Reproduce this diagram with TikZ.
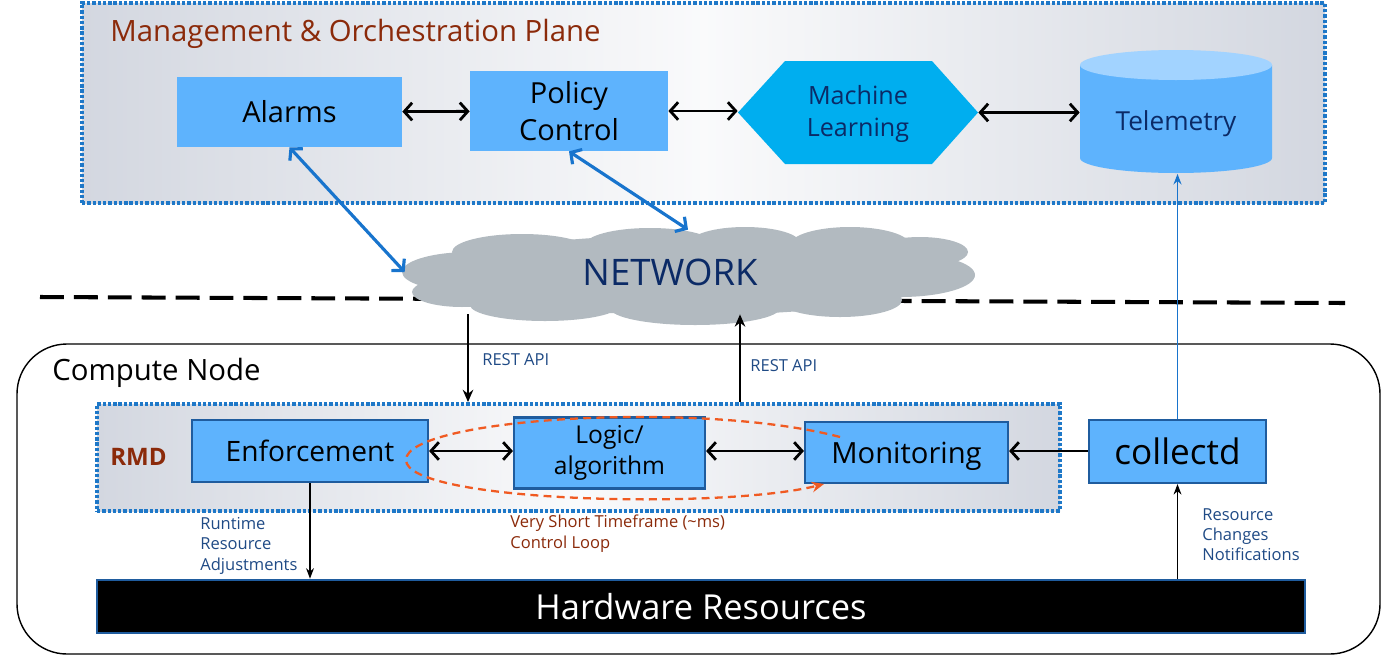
\documentclass[tikz,border=0pt]{standalone}
\usepackage{fontspec}
\setmainfont{Open Sans}
\usetikzlibrary{arrows.meta,calc}

\definecolor{boxblue}{HTML}{5EB3FD}
\definecolor{mlcyan}{HTML}{00AEEF}
\definecolor{cyltop}{HTML}{A2D3FF}
\definecolor{edgeblue}{HTML}{1F5C9E}
\definecolor{dotblue}{HTML}{1E78C8}
\definecolor{linkblue}{HTML}{1874CD}
\definecolor{navy}{HTML}{0B2A66}
\definecolor{lblue}{HTML}{1F4A85}
\definecolor{rust}{HTML}{8B2A0A}
\definecolor{cloudgray}{HTML}{B2BAC0}
\definecolor{loopred}{HTML}{F05A22}
\definecolor{planegray}{HTML}{D3D7E0}

\newcommand\px{0.02cm}
\newcommand\fs[2]{\fontsize{#1}{#2}\selectfont}

\tikzset{
  plane/.style={draw=dotblue, line width=2.2pt, dash pattern=on 1.9pt off 1.1pt,
    left color=planegray, right color=planegray, middle color=planegray!12},
  mgmtbox/.style={fill=boxblue, inner sep=0pt, align=center},
  rmdbox/.style={fill=boxblue, draw=edgeblue, line width=1.2pt, inner sep=0pt, align=center},
  nodesc/.style={text depth=0pt},
  dbl/.style={{Straight Barb[length=4.5pt,width=10pt]}-{Straight Barb[length=4.5pt,width=10pt]}, line width=1.6pt},
  bluedbl/.style={dbl, draw=linkblue, line width=1.8pt},
  oneway/.style={-{Stealth[length=7pt,width=6pt]}, line width=1.1pt},
  hwarrow/.style={-{Stealth[length=6pt,width=4.5pt]}, line width=0.7pt},
  lbl/.style={text=lblue, font=\fs{9.4}{11.6}, align=left, anchor=north west, inner sep=0pt},
}

\begin{document}
\begin{tikzpicture}[x=0.02cm, y=-0.02cm]
  \useasboundingbox (0,0) rectangle (1388,656);

  % Management plane
  \node[plane, minimum width=1243*\px, minimum height=200*\px] (mop) at (703.5,103) {};
  \node[anchor=west, text=rust, font=\fs{16.7}{20}, inner sep=0pt] (moptitle) at (110,34)
    {Management \& Orchestration Plane};

  \node[mgmtbox, minimum width=225*\px, minimum height=70*\px, font=\fs{16.5}{20}] (alarms) at (289.5,112) {Alarms};
  \node[mgmtbox, minimum width=198*\px, minimum height=80*\px, font=\fs{16.5}{21}] (policy) at (569,111) {Policy\\Control};

  % hexagon behind the text
  \coordinate (mlc) at (858,112.5);
  \fill[mlcyan] ($(mlc)+(-120,0)$) -- ($(mlc)+(-73,-51.5)$) -- ($(mlc)+(74,-51.5)$)
    -- ($(mlc)+(120,0)$) -- ($(mlc)+(74,51.5)$) -- ($(mlc)+(-73,51.5)$) -- cycle;
  \node[minimum width=240*\px, minimum height=103*\px, inner sep=0pt, align=center,
    text=navy, font=\fs{14.3}{18.5}] (ml) at ($(mlc)+(0,1.5)$) {Machine\\Learning};

  % cylinder behind the text
  \coordinate (telc) at (1176,112);
  \fill[boxblue] ($(telc)+(-96,-47)$) -- ($(telc)+(-96,46)$)
    arc[start angle=180, end angle=360, x radius=96, y radius=-15] -- ($(telc)+(96,-47)$) -- cycle;
  \fill[cyltop] ($(telc)+(0,-47)$) ellipse [x radius=96, y radius=15];
  \node[minimum width=192*\px, minimum height=105*\px, inner sep=0pt, nodesc,
    text=navy, font=\fs{14.9}{18}] (tel) at ($(telc)+(0,9)$) {Telemetry};

  \draw[dbl] (alarms) -- (policy);
  \draw[dbl] (policy) -- (ml.west |- policy);
  \draw[dbl] (ml.east |- mlc) -- (tel.west |- mlc);

  % separating line
  \draw[line width=2.3pt, dash pattern=on 13.6pt off 5.7pt] (40,297) -- (1345,303);

  % Network cloud
  \begin{scope}[cloudgray]
    \fill (690,275) ellipse [x radius=255, y radius=40];
    \fill (470,272) ellipse [x radius=68, y radius=20];
    \fill (522,252) ellipse [x radius=70, y radius=18];
    \fill (650,245) ellipse [x radius=65, y radius=17];
    \fill (745,243) ellipse [x radius=55, y radius=16];
    \fill (850,245) ellipse [x radius=60, y radius=18];
    \fill (920,252) ellipse [x radius=48, y radius=15];
    \fill (900,275) ellipse [x radius=75, y radius=22];
    \fill (840,300) ellipse [x radius=62, y radius=17];
    \fill (695,308) ellipse [x radius=85, y radius=17];
    \fill (545,305) ellipse [x radius=75, y radius=16];
    \fill (462,292) ellipse [x radius=50, y radius=15];
  \end{scope}
  \node[minimum width=530*\px, minimum height=84*\px, inner sep=0pt,
    text=navy, font=\fs{20.8}{24}] (net) at (670,272) {NETWORK};

  \draw[bluedbl] (alarms.south) -- (net.west);
  \draw[bluedbl] (policy.south) -- ([xshift=18*\px]net.north);

  % Compute node
  \node[draw, line width=0.8pt, rounded corners=1cm, minimum width=1363*\px,
    minimum height=310*\px] (cn) at (698.5,499) {};
  \node[anchor=west, font=\fs{16.7}{20}, inner sep=0pt] (cntitle) at (52,373) {Compute Node};

  \node[plane, minimum width=963*\px, minimum height=107*\px] (rmd) at (578.5,457.5) {};
  \node[anchor=west, text=rust, font=\bfseries\fs{13.7}{16}, inner sep=0pt] (rmdtitle) at (110,457) {RMD};

  \node[rmdbox, minimum width=236*\px, minimum height=62*\px, font=\fs{16}{19}] (enf) at (310,451) {Enforcement};
  \node[rmdbox, minimum width=191*\px, minimum height=71*\px, font=\fs{14}{18}] (logic) at (609.5,453) {Logic/\\algorithm};
  \node[rmdbox, minimum width=203*\px, minimum height=61*\px, font=\fs{16.6}{19}, nodesc] (mon) at (906.5,452.5) {Monitoring};
  \node[rmdbox, minimum width=177*\px, minimum height=63*\px, font=\fs{20}{23}] (col) at (1177.5,451.5) {collectd};

  \draw[dbl] (enf) -- (logic.west |- enf);
  \draw[dbl] (logic.east |- enf) -- (mon.west |- enf);
  \draw[-{Straight Barb[length=4.5pt,width=10pt]}, line width=1.6pt] (col.west |- enf) -- (mon.east |- enf);

  % short control loop
  \draw[loopred, line width=1.3pt, dash pattern=on 4.5pt off 3pt, -{Stealth[length=7pt,width=6pt]}]
    (840,437) .. controls (700,400) and (406,418) .. (406,460)
    .. controls (406,502) and (720,510) .. (824,484);

  % REST API links
  \coordinate (rl) at (468,0);
  \coordinate (rr) at (740,0);
  \draw[oneway] (net.south -| rl) -- (rl |- rmd.north);
  \draw[oneway] (rr |- rmd.north) -- (rr |- net.south);
  \node[lbl, anchor=west] (restl) at (482,360) {REST API};
  \node[lbl, anchor=west] (restr) at (750,366) {REST API};

  \draw[hwarrow, draw=linkblue, line width=1.1pt] (col.north) -- (col.north |- tel.south);

  % Hardware
  \node[fill=black, draw=edgeblue, line width=1.5pt, minimum width=1208*\px, minimum height=53*\px,
    text=white, font=\fs{19.6}{23}, inner sep=0pt] (hw) at (701,606.5) {Hardware Resources};

  \draw[hwarrow] (enf.south) -- (enf.south |- hw.north);
  \draw[hwarrow] (hw.north -| col.south) -- (col.south);

  \node[lbl, text=lblue] (runtime) at (200,517) {Runtime\\Resource\\Adjustments};
  \node[lbl, text=lblue] (notif) at (1202,508) {Resource\\Changes\\Notifications};
  \node[lbl, text=rust] (looplbl) at (510,515) {Very Short Timeframe (\textasciitilde ms)\\Control Loop};
\end{tikzpicture}
\end{document}
